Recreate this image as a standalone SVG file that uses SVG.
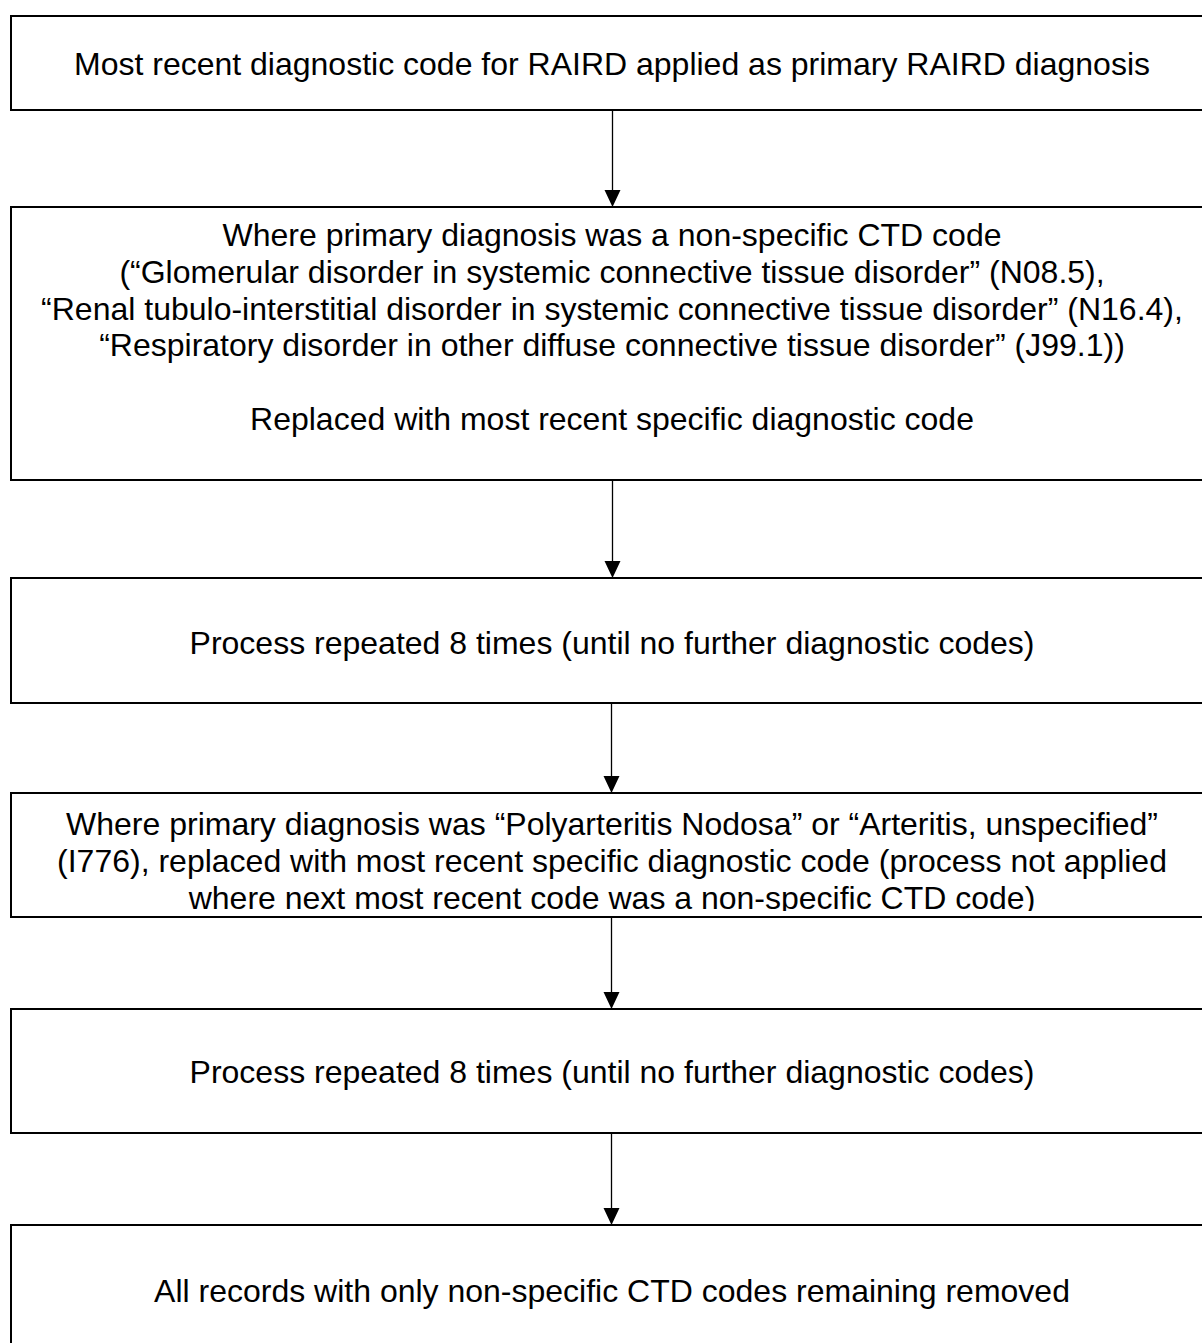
<svg xmlns="http://www.w3.org/2000/svg" width="1202" height="1343" viewBox="0 0 1202 1343">
<style>
.box{fill:#ffffff;stroke:#000000;stroke-width:2}
.t{font-family:"Liberation Sans",Arial,sans-serif;font-size:32px;fill:#000000;text-anchor:middle}
.edge{stroke:#000000;stroke-width:1.3;fill:none}
.head{fill:#000000}
</style>
<defs>
<clipPath id="clip4"><rect x="11" y="794" width="1200" height="117"/></clipPath>
</defs>
<rect width="1202" height="1343" fill="#ffffff"/>
<g id="connectors">
<line class="edge" x1="612.5" y1="110" x2="612.5" y2="190"/>
<path class="head" d="M604.5,190 L620.5,190 L612.5,207 Z"/>
<line class="edge" x1="612.5" y1="480" x2="612.5" y2="561"/>
<path class="head" d="M604.5,561 L620.5,561 L612.5,578 Z"/>
<line class="edge" x1="611.5" y1="703" x2="611.5" y2="776"/>
<path class="head" d="M603.5,776 L619.5,776 L611.5,793 Z"/>
<line class="edge" x1="611.5" y1="917" x2="611.5" y2="992"/>
<path class="head" d="M603.5,992 L619.5,992 L611.5,1009 Z"/>
<line class="edge" x1="611.5" y1="1133" x2="611.5" y2="1208"/>
<path class="head" d="M603.5,1208 L619.5,1208 L611.5,1225 Z"/>
</g>
<g id="node1">
<rect class="box" x="11" y="16" width="1200" height="94"/>
<text class="t" x="612" y="75">Most recent diagnostic code for RAIRD applied as primary RAIRD diagnosis</text>
</g>
<g id="node2">
<rect class="box" x="11" y="207" width="1200" height="273"/>
<text class="t" x="612" y="246">Where primary diagnosis was a non-specific CTD code</text>
<text class="t" x="612" y="282.8">(“Glomerular disorder in systemic connective tissue disorder” (N08.5),</text>
<text class="t" x="612" y="319.6">“Renal tubulo-interstitial disorder in systemic connective tissue disorder” (N16.4),</text>
<text class="t" x="612" y="356.4">“Respiratory disorder in other diffuse connective tissue disorder” (J99.1))</text>
<text class="t" x="612" y="430">Replaced with most recent specific diagnostic code</text>
</g>
<g id="node3">
<rect class="box" x="11" y="578" width="1200" height="125"/>
<text class="t" x="612" y="654">Process repeated 8 times (until no further diagnostic codes)</text>
</g>
<g id="node4">
<rect class="box" x="11" y="793" width="1200" height="124"/>
<g clip-path="url(#clip4)">
<text class="t" x="612" y="835">Where primary diagnosis was “Polyarteritis Nodosa” or “Arteritis, unspecified”</text>
<text class="t" x="612" y="871.8">(I776), replaced with most recent specific diagnostic code (process not applied</text>
<text class="t" x="612" y="908.6">where next most recent code was a non-specific CTD code)</text>
</g>
</g>
<g id="node5">
<rect class="box" x="11" y="1009" width="1200" height="124"/>
<text class="t" x="612" y="1083">Process repeated 8 times (until no further diagnostic codes)</text>
</g>
<g id="node6">
<rect class="box" x="11" y="1225" width="1200" height="140"/>
<text class="t" x="612" y="1302">All records with only non-specific CTD codes remaining removed</text>
</g>
</svg>
